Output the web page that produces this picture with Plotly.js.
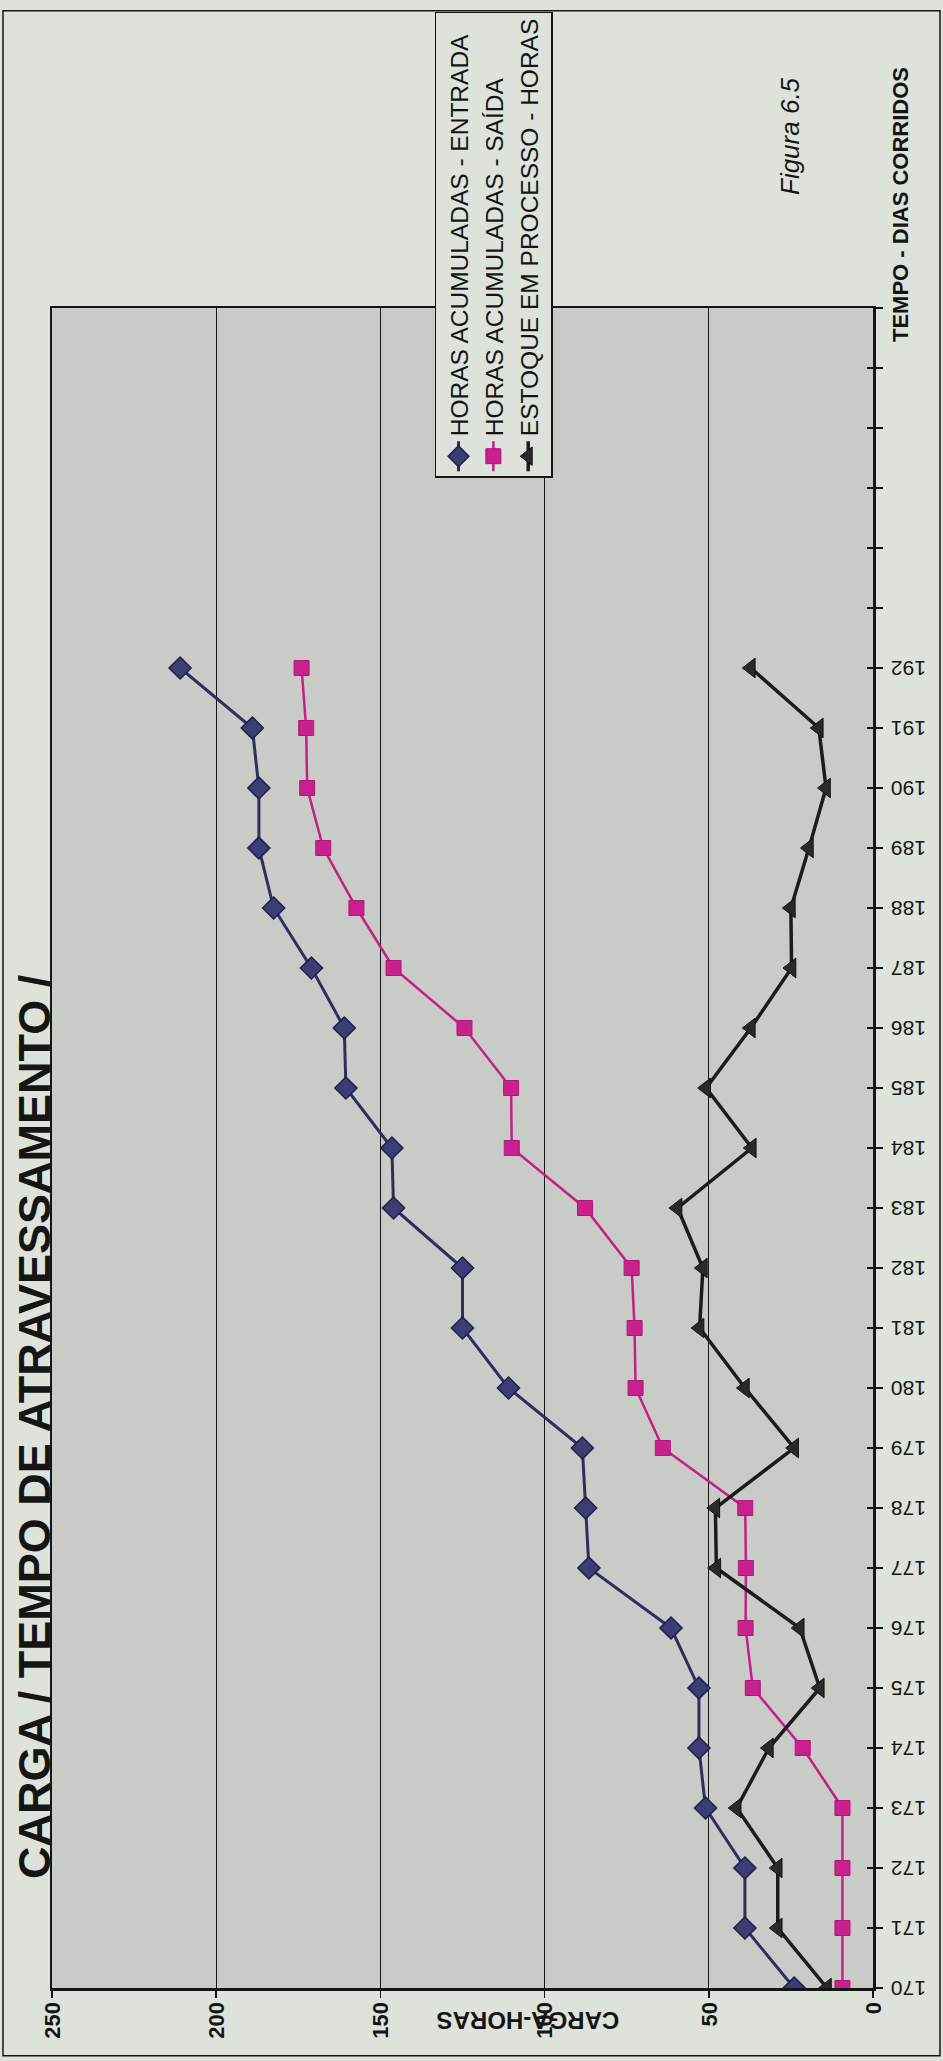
<!DOCTYPE html>
<html>
<head>
<meta charset="utf-8">
<script src="https://cdn.plot.ly/plotly-3.0.1.min.js"></script>
<style>
html, body { margin:0; padding:0; width:943px; height:2061px; overflow:hidden; background:#dde3db; }
#chart { position:absolute; left:0; top:0; width:2061px; height:943px;
  transform-origin:0 0; transform:translate(0px, 2061px) rotate(-90deg); }
</style>
</head>
<body>
<div id="chart"></div>
<script>
// Days (TEMPO - DIAS CORRIDOS)
const days = [170,171,172,173,174,175,176,177,178,179,180,181,182,183,184,185,186,187,188,189,190,191,192];
// HORAS ACUMULADAS - ENTRADA
const entrada = [24, 39, 39, 51, 53, 53, 61.5, 86.5, 87.5, 88.5, 111, 125, 125, 146, 146.5, 160.5, 161, 171, 182.5, 187, 187, 189, 211];
// HORAS ACUMULADAS - SAÍDA
const saida = [9.3, 9.3, 9.3, 9.3, 21.4, 36.6, 38.8, 38.7, 38.9, 64, 72.3, 72.6, 73.5, 87.7, 110, 110.2, 124.4, 146, 157.3, 167.4, 172.3, 172.6, 174];
// ESTOQUE EM PROCESSO - HORAS
const estoque = [14, 29, 29, 41.5, 31.7, 16.2, 22.3, 47.7, 48, 24, 39, 52.8, 51.8, 59.5, 36.9, 50.8, 37.2, 24.8, 25, 19.5, 14.3, 16.5, 37.2];
// empty day slots shown on the axis after the last day
const emptyDays = [193,194,195,196,197,198];
const tickVals = days.concat(emptyDays);
const tickText = days.map(String).concat(emptyDays.map(() => ''));
const seriesNames = ['HORAS ACUMULADAS - ENTRADA', 'HORAS ACUMULADAS - SAÍDA', 'ESTOQUE EM PROCESSO - HORAS'];

const PAPER = '#dde3db';
const INK = '#151515';

const traces = [
  { x: days, y: entrada, name: seriesNames[0], mode: 'lines+markers', legendgroup: 'a',
    line: { color: '#2e2e62', width: 3 },
    marker: { symbol: 'diamond', size: 17, color: '#3d3d76', line: { color: '#1f1f4a', width: 1.5 } } },
  { x: days, y: saida, name: seriesNames[1], mode: 'lines+markers', legendgroup: 'b',
    line: { color: '#c41f8a', width: 2.5 },
    marker: { symbol: 'square', size: 15, color: '#c8208c', line: { color: '#b0187a', width: 1 } } },
  { x: days, y: estoque, name: seriesNames[2], mode: 'lines+markers', legendgroup: 'c',
    line: { color: '#1c1c1c', width: 3.5 },
    marker: { symbol: 'triangle-up', size: 17, color: '#2a2a2a', line: { color: '#111', width: 1 } } },
  { x: [null], y: [null], xaxis: 'x2', yaxis: 'y', showlegend: false, hoverinfo: 'skip', mode: 'markers' }
];

const layout = {
  width: 2061, height: 943,
  margin: { l: 73, r: 303, t: 52, b: 70 },
  paper_bgcolor: PAPER, plot_bgcolor: '#c8cbc6',
  font: { family: '"Liberation Sans", Arial, sans-serif', color: INK },
  showlegend: true,
  xaxis: {
    range: [170, 198], tickmode: 'array', tickvals: tickVals, ticktext: tickText,
    tickangle: -90, ticks: 'outside', ticklen: 7, tickwidth: 1.5, tickcolor: INK,
    showline: true, linecolor: INK, linewidth: 2.5, mirror: true,
    showgrid: false, zeroline: false, tickfont: { size: 21, color: INK }
  },
  xaxis2: {
    overlaying: 'x', anchor: 'y', side: 'bottom', range: [170, 198],
    tickmode: 'array', tickvals: tickVals, ticks: 'inside', ticklen: 6, tickwidth: 1.5, tickcolor: INK,
    showticklabels: false, showgrid: false, zeroline: false, showline: false
  },
  yaxis: {
    range: [0, 250], tick0: 0, dtick: 50, ticks: 'outside', ticklen: 7, tickwidth: 1.5, tickcolor: INK,
    showgrid: true, gridcolor: INK, gridwidth: 1,
    showline: true, linecolor: INK, linewidth: 2.5, mirror: true, zeroline: false,
    tickfont: { size: 22, color: INK, weight: 'bold' }
  },
  legend: {
    x: 0.899, y: 0.534, xanchor: 'left', yanchor: 'top',
    bgcolor: PAPER, bordercolor: INK, borderwidth: 1.5,
    font: { size: 24.5, color: INK }, traceorder: 'normal', tracegroupgap: 2
  },
  annotations: [
    { text: 'CARGA / TEMPO DE ATRAVESSAMENTO /', xref: 'paper', yref: 'paper',
      x: 0.0635, y: 1.021, xanchor: 'left', yanchor: 'middle', showarrow: false,
      font: { size: 45, weight: 'bold', color: INK } },
    { text: 'TEMPO - DIAS CORRIDOS', xref: 'paper', yref: 'paper',
      x: 0.9786, y: -0.033, xanchor: 'left', yanchor: 'middle', showarrow: false,
      font: { size: 22, weight: 'bold', color: INK } },
    { text: 'Figura 6.5', xref: 'paper', yref: 'paper',
      x: 1.066, y: 0.101, xanchor: 'left', yanchor: 'middle', showarrow: false,
      font: { size: 26, style: 'italic', color: INK } },
    { text: 'CARGA-HORAS', xref: 'paper', yref: 'paper', textangle: -90,
      x: -0.0196, y: 0.42, xanchor: 'center', yanchor: 'middle', showarrow: false,
      font: { size: 24, weight: 'bold', color: INK } }
  ],
  shapes: [
    { type: 'rect', xref: 'paper', yref: 'paper', x0: -0.0404, x1: 1.1769, y0: -0.0816, y1: 1.0597,
      line: { color: INK, width: 1.5 }, fillcolor: 'rgba(0,0,0,0)', layer: 'below' }
  ]
};

Plotly.newPlot('chart', traces, layout, { staticPlot: true, displayModeBar: false });
</script>
</body>
</html>
